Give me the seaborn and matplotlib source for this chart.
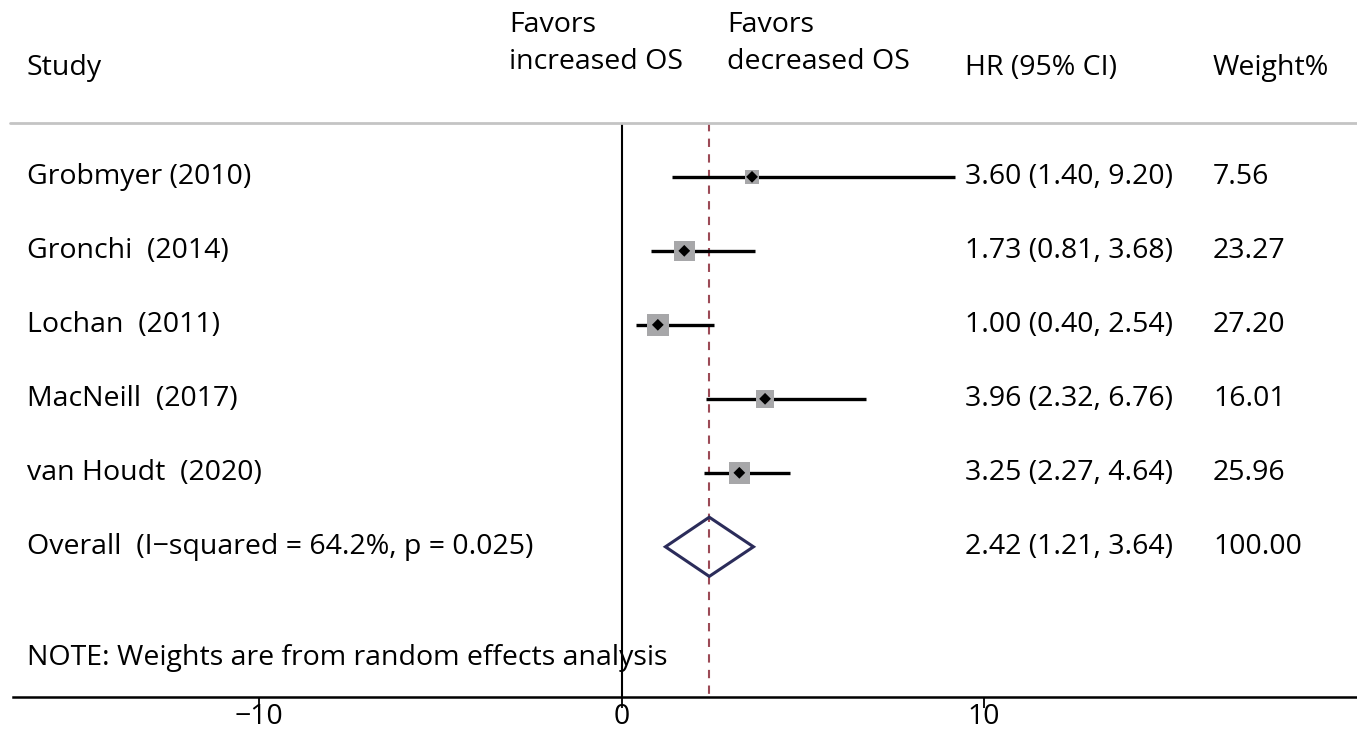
import numpy as np
import pandas as pd
import matplotlib.pyplot as plt
import matplotlib.transforms as mtrans
import seaborn as sns

# study data
studies = ["Grobmyer (2010)", "Gronchi  (2014)", "Lochan  (2011)",
           "MacNeill  (2017)", "van Houdt  (2020)"]
hr = [3.60, 1.73, 1.00, 3.96, 3.25]
lo = [1.40, 0.81, 0.40, 2.32, 2.27]
hi = [9.20, 3.68, 2.54, 6.76, 4.64]
weight = [7.56, 23.27, 27.20, 16.01, 25.96]

overall_label = "Overall  (I\u2212squared = 64.2%, p = 0.025)"
overall_hr, overall_lo, overall_hi = 2.42, 1.21, 3.64

xticks = [-10, 0, 10]
xticklabels = ["\u221210", "0", "10"]

df = pd.DataFrame({"study": studies, "hr": hr, "lo": lo, "hi": hi,
                   "weight": weight, "row": np.arange(len(studies))})

sns.set_theme(style="white")
plt.rcParams["font.family"] = ["Open Sans", "DejaVu Sans"]
plt.rcParams["text.color"] = "black"
fs = 20.5

fig = plt.figure(figsize=(13.57, 7.34), dpi=100)
ax = fig.add_axes([13 / 1357, 37 / 734, 1 - 13 / 1357, 697 / 734])

# reference lines
ax.vlines(0, -0.73, 7.03, color="black", lw=1.5, zorder=2)
ax.vlines(overall_hr, -0.73, 7.03, color="#9c4a56", lw=1.5,
          linestyles=(0, (4, 3.5)), zorder=2)

# CIs
ax.hlines(df["row"], df["lo"], df["hi"], color="black", lw=2.4, zorder=3)
sns.scatterplot(data=df, x="hr", y="row", size="weight", sizes=(95, 250),
                size_norm=(7.56, 27.2), marker="s", color="#a7a7a9",
                edgecolor="none", legend=False, ax=ax, zorder=4)
sns.scatterplot(data=df, x="hr", y="row", marker="D", color="black",
                s=36, edgecolor="none", legend=False, ax=ax, zorder=5)

# overall diamond
orow = len(studies)
ax.fill([overall_lo, overall_hr, overall_hi, overall_hr, overall_lo],
        [orow, orow - 0.4, orow, orow + 0.4, orow],
        facecolor="none", edgecolor="#2b2c5a", lw=2.2, zorder=4)

ax.set_xlim(-16.8, 20.3)
ax.set_ylim(7.03, -2.39)
for s in ["top", "right", "left"]:
    ax.spines[s].set_visible(False)
ax.spines["bottom"].set_linewidth(1.8)
ax.spines["bottom"].set_color("black")
ax.set_yticks([])
ax.set_xticks(xticks)
ax.set_xticklabels(xticklabels, fontsize=fs)
ax.tick_params(axis="x", direction="out", length=8, width=1.3,
               colors="black", pad=-4, bottom=True)
ax.set_xlabel("")
ax.set_ylabel("")

# separator line
tr = mtrans.blended_transform_factory(fig.transFigure, ax.transData)
ax.plot([10 / 1357, 1.0], [-0.73, -0.73], color="#c4c4c4", lw=2,
        transform=tr, clip_on=False)

# text columns
x_study, x_fav1, x_fav2, x_hr, x_wt = 27 / 1357, 509 / 1357, 727 / 1357, 965 / 1357, 1213 / 1357
ax.text(x_study, -1.47, "Study", fontsize=fs, transform=tr, va="center")
ax.text(x_fav1, -1.80, "Favors\nincreased OS", fontsize=fs, transform=tr,
        va="center", linespacing=1.42)
ax.text(x_fav2, -1.80, "Favors\ndecreased OS", fontsize=fs, transform=tr,
        va="center", linespacing=1.42)
ax.text(x_hr, -1.47, "HR (95% CI)", fontsize=fs, transform=tr, va="center")
ax.text(x_wt, -1.47, "Weight%", fontsize=fs, transform=tr, va="center")

for i, r in df.iterrows():
    ax.text(x_study, r["row"], r["study"], fontsize=fs, transform=tr, va="center")
    ax.text(x_hr, r["row"], f"{r['hr']:.2f} ({r['lo']:.2f}, {r['hi']:.2f})",
            fontsize=fs, transform=tr, va="center")
    ax.text(x_wt, r["row"], f"{r['weight']:.2f}", fontsize=fs, transform=tr, va="center")

ax.text(x_study, orow, overall_label, fontsize=fs, transform=tr, va="center")
ax.text(x_hr, orow, f"{overall_hr:.2f} ({overall_lo:.2f}, {overall_hi:.2f})",
        fontsize=fs, transform=tr, va="center")
ax.text(x_wt, orow, "100.00", fontsize=fs, transform=tr, va="center")
ax.text(x_study, 6.5, "NOTE: Weights are from random effects analysis",
        fontsize=fs, transform=tr, va="center")

fig.savefig("out.png", dpi=100)
